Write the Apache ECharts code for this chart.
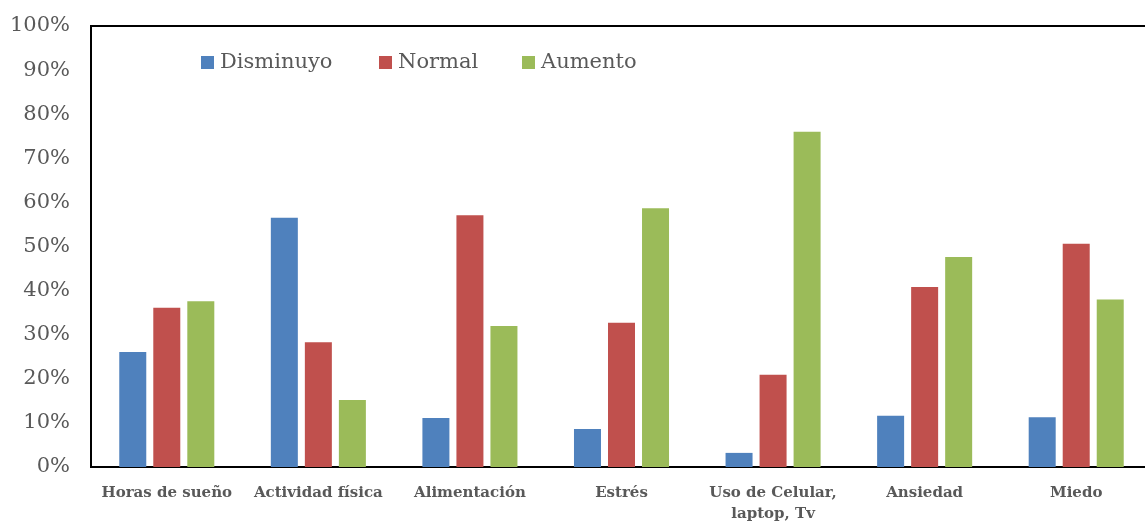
<!DOCTYPE html>
<html><head><meta charset="utf-8">
<script src="https://cdn.jsdelivr.net/npm/echarts@6/dist/echarts.min.js"></script>
<style>html,body{margin:0;padding:0;background:#fff}#c{width:1145px;height:521px}</style>
</head><body><div id="c"></div>
<script>
const categories = ['Horas de sueño','Actividad física','Alimentación','Estrés','Uso de Celular,\nlaptop, Tv','Ansiedad','Miedo'];
const disminuyo = [26.1, 56.5, 11.1, 8.6, 3.2, 11.6, 11.3];
const normal = [36.1, 28.3, 57.1, 32.7, 20.9, 40.8, 50.6];
const aumento = [37.6, 15.2, 32.0, 58.7, 76.0, 47.6, 38.0];
const seriesNames = ['Disminuyo','Normal','Aumento'];
const colors = ['#4F81BD','#C0504D','#9BBB59'];
const font = 'DejaVu Serif';
const chart = echarts.init(document.getElementById('c'), null, {renderer:'canvas'});
const mk = (name, data, i) => ({
  name, type:'bar', data, barWidth:27, barGap:'26%',
  itemStyle:{color:colors[i]}, animation:false
});
const legendLeft = [201, 379, 522];
const legends = seriesNames.map((n, i) => ({
  left: legendLeft[i], top: 52, padding: 0, itemWidth: 13, itemHeight: 13, icon: 'rect',
  textStyle: {fontFamily: font, fontSize: 21, color: '#595959', padding: [0, 0, 0, 1]},
  data: [n]
}));
chart.setOption({
  animation:false,
  legend: legends,
  grid:{left:91, top:26, bottom:54, width:1061, show:true, borderColor:'#000', borderWidth:2, containLabel:false, outerBoundsMode:'none'},
  xAxis:{
    type:'category', data:categories,
    axisLine:{lineStyle:{color:'#000', width:2}},
    axisTick:{show:false},
    axisLabel:{fontFamily:font, fontWeight:'bold', fontSize:15, color:'#595959', margin:16, interval:0, lineHeight:21}
  },
  yAxis:{
    type:'value', min:0, max:100, interval:10,
    axisLine:{show:true, lineStyle:{color:'#000', width:2}},
    axisTick:{show:false},
    splitLine:{show:false},
    axisLabel:{formatter:'{value}%', fontFamily:font, fontSize:21, color:'#595959', margin:21}
  },
  series:[mk(seriesNames[0], disminuyo, 0), mk(seriesNames[1], normal, 1), mk(seriesNames[2], aumento, 2)]
});
</script></body></html>
